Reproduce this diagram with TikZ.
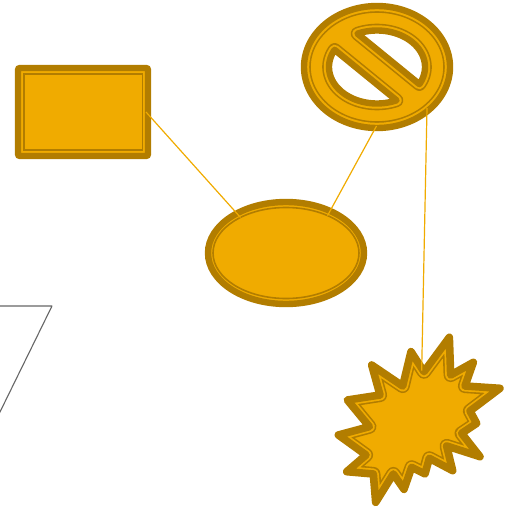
\documentclass[tikz,border=0pt]{standalone}
\usetikzlibrary{shapes.geometric}
\definecolor{amberfill}{HTML}{F0AB00}
\definecolor{amberdark}{HTML}{B27D00}
\definecolor{outlinegray}{HTML}{666666}
\tikzset{
  shapeouter/.style={draw=amberdark,fill=amberfill,line width=6.4pt,outer sep=0pt,inner sep=0pt},
  shapeinner/.style={draw=amberdark,line width=1.6pt,outer sep=0pt,inner sep=0pt},
  linkline/.style={draw=amberfill,line width=1.2pt},
}
\newcommand{\layeredshape}[4]{%
  \fill[amberfill,even odd rule] #4;
  \begin{scope}[even odd rule]
    \clip #4;
    \draw[amberdark,line width=#3pt,line join=round] #4;
    \draw[amberfill,line width=#2pt,line join=round] #4;
  \end{scope}
  \draw[amberdark,line width=#1pt,line join=round] #4;
}
\newcommand{\nosympath}{
  (377,67) ellipse [x radius=73pt,y radius=61pt]
  plot[domain=-114:28,samples=50] ({377+48*cos(\x)},{67+36.5*sin(\x)}) -- cycle
  plot[domain=66:208,samples=50] ({377+48*cos(\x)},{67+36.5*sin(\x)}) -- cycle
}
\newcommand{\burstpath}{
  (358,22) -- (362,135) -- (430,97) -- (405,168) -- (510,175) -- (420,243) -- (440,280)
  -- (395,310) -- (450,380) -- (350,348) -- (368,422) -- (298,385) -- (285,432) -- (245,412)
  -- (222,478) -- (190,432) -- (137,517) -- (130,432) -- (50,425) -- (108,375) -- (25,315)
  -- (118,290) -- (52,210) -- (150,195) -- (125,105) -- (218,168) -- (243,65) -- (282,125) -- cycle
}
\begin{document}
\begin{tikzpicture}[x=1pt,y=-1pt]
  \useasboundingbox (0,0) rectangle (504,508);
  \clip (0,0) rectangle (504,508);

  % outline cut by the left edge
  \coordinate (slantA) at (-2,306);
  \coordinate (slantB) at (52,306);
  \coordinate (slantC) at (-2,416);
  \draw[outlinegray,line width=1.1pt,line join=round] (slantA) -- (slantB) -- (slantC);

  % rectangle
  \node[shapeouter,rectangle,rounded corners=2pt,minimum width=130pt,minimum height=88pt] (box) at (83,112) {};
  \node[shapeinner,rectangle,minimum width=118.7pt,minimum height=76pt] (boxin) at (83.3,112) {};

  % ellipse
  \node[shapeouter,ellipse,minimum width=156pt,minimum height=102pt] (ell) at (286,253) {};
  \node[shapeinner,ellipse,minimum width=146pt,minimum height=91pt] (ellin) at (286,253) {};

  % prohibition sign
  \layeredshape{6.4}{10.4}{13.6}{\nosympath}
  \coordinate (signA) at (376.5,126);
  \coordinate (signB) at (427,108);

  % starburst
  \begin{scope}[shift={(330,330)},x=0.33333pt,y=-0.33333pt]
    \layeredshape{7.6}{11}{14.2}{\burstpath}
    \coordinate (burstTop) at (275,122);
  \end{scope}

  % connectors
  \draw[linkline] ([xshift=-2pt]box.east) -- (ellin.142.7);
  \draw[linkline] (signA) -- (ellin.42.3);
  \draw[linkline] (signB) -- (burstTop);
\end{tikzpicture}
\end{document}
